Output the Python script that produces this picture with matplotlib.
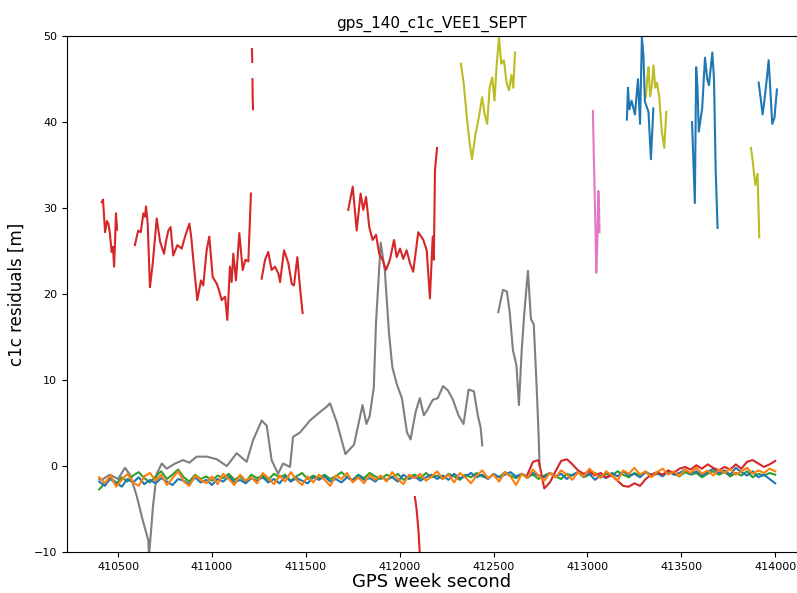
import numpy as np
import matplotlib.pyplot as plt

# upper segments (time, residual)
red_t1 = [410413, 410420, 410431, 410441, 410449, 410457, 410466, 410473, 410479, 410484, 410489, 410495]
red_v1 = [30.7, 31.0, 27.2, 28.5, 28.2, 27.0, 24.9, 25.5, 23.2, 26.0, 29.4, 27.5]

red_t2 = [410590, 410600, 410608, 410621, 410635, 410644, 410649, 410658, 410670, 410685,
          410706, 410724, 410745, 410756, 410768, 410780, 410794, 410816, 410839, 410857,
          410880, 410890, 410901, 410922, 410942, 410954, 410972, 410986, 411004, 411026,
          411040, 411052, 411070, 411082, 411096, 411105, 411114, 411128, 411146, 411164,
          411178, 411194, 411199, 411208]
red_v2 = [25.7, 26.7, 27.4, 27.2, 29.4, 29.0, 30.2, 28.2, 20.8, 23.6,
          28.8, 26.1, 24.7, 26.2, 27.4, 27.8, 24.5, 25.7, 25.3, 26.7,
          28.2, 26.6, 24.0, 19.3, 21.6, 21.0, 25.1, 26.7, 22.0, 21.2,
          20.3, 19.3, 19.7, 17.0, 23.2, 21.4, 24.7, 21.6, 27.1, 22.8,
          24.0, 23.8, 26.7, 31.7]

red_t3 = [411265, 411283, 411300, 411318, 411336, 411354, 411363, 411384, 411407, 411425,
          411437, 411455, 411469, 411483]
red_v3 = [21.8, 24.0, 24.9, 22.8, 23.2, 22.4, 21.4, 25.1, 23.6, 21.2,
          21.0, 24.3, 20.8, 17.8]

red_t4 = [411726, 411750, 411771, 411792, 411806, 411821, 411838, 411856, 411874, 411891,
          411909, 411927, 411948, 411970, 411984, 412002, 412019, 412037, 412055, 412072,
          412099, 412126, 412144, 412161, 412176, 412182, 412188, 412199]
red_v4 = [29.8, 32.5, 27.4, 31.7, 29.8, 31.3, 27.8, 26.3, 26.9, 24.7,
          24.0, 22.8, 24.0, 26.3, 24.3, 25.3, 24.1, 25.1, 23.6, 22.6,
          27.2, 26.3, 25.1, 19.5, 26.7, 24.0, 34.4, 37.0]

red_dash_t1 = [411213, 411215]
red_dash_v1 = [48.5, 47.0]
red_dash_t2 = [411216, 411217, 411219]
red_dash_v2 = [45.0, 43.0, 41.5]

red_low_t = [412081, 412090, 412100, 412108]
red_low_v = [-3.6, -5.0, -7.5, -10.5]

gray_t1 = [410400, 410413, 410457, 410500, 410537, 410564, 410600, 410628, 410661, 410665,
           410676, 410686, 410706, 410733, 410759, 410804, 410846, 410880, 410919, 410972,
           411026, 411079, 411132, 411185, 411219, 411265, 411292, 411318, 411352, 411379,
           411416, 411432, 411469, 411522, 411576, 411611, 411629, 411665, 411711, 411757,
           411802, 411823, 411840, 411862, 411874, 411899, 411921, 411943, 411961, 411985,
           412012, 412039, 412058, 412085, 412107, 412129, 412149, 412176, 412203, 412231,
           412257, 412284, 412313, 412340, 412367, 412395, 412417, 412431, 412440]
gray_v1 = [-1.5, -1.6, -1.0, -1.5, -0.2, -1.0, -3.5, -6.0, -8.6, -10.5,
           -7.5, -4.7, -0.9, 0.3, -0.3, 0.3, 0.7, 0.4, 1.1, 1.1,
           0.8, 0.0, 1.5, 0.5, 3.0, 5.3, 4.7, 0.7, -0.9, 0.3,
           -0.1, 3.4, 3.9, 5.3, 6.3, 6.9, 7.3, 5.1, 1.4, 2.5,
           7.1, 4.9, 5.8, 9.1, 16.7, 26.0, 22.7, 15.5, 11.5, 9.5,
           7.9, 3.9, 3.1, 6.3, 7.9, 5.9, 6.6, 7.7, 7.9, 9.3,
           8.8, 7.7, 5.9, 4.9, 8.9, 8.7, 5.8, 4.5, 2.4]

gray_t2 = [412525, 412550, 412571, 412586, 412603, 412622, 412635, 412650, 412664, 412683,
           412699, 412714, 412723, 412732, 412740, 412745]
gray_v2 = [17.9, 20.5, 20.3, 17.9, 13.5, 11.7, 7.1, 13.5, 17.9, 22.7,
           17.1, 16.5, 12.3, 7.9, 3.5, 0.0]

olive_t1 = [412326, 412341, 412358, 412373, 412385, 412403, 412421, 412439, 412452, 412466,
            412479, 412493, 412505, 412516, 412529, 412541, 412555, 412570, 412582, 412595,
            412605, 412614]
olive_v1 = [46.8, 44.5, 40.5, 37.5, 35.7, 38.5, 40.5, 42.9, 41.0, 39.8,
            44.0, 45.2, 42.5, 46.5, 49.9, 46.8, 47.2, 44.5, 43.7, 45.5,
            44.0, 48.1]

olive_t2 = [413311, 413318, 413325, 413334, 413343, 413352, 413361, 413370, 413382, 413396,
            413409, 413420]
olive_v2 = [42.9, 45.0, 46.4, 43.0, 44.3, 46.6, 44.0, 44.6, 43.0, 38.9, 37.0, 41.2]

olive_t3 = [413871, 413880, 413894, 413906, 413915]
olive_v3 = [37.0, 35.5, 32.7, 34.0, 26.6]

pink_t = [413029, 413035, 413041, 413044, 413047, 413052, 413058, 413062, 413064]
pink_v = [41.3, 35.0, 29.4, 26.0, 22.5, 25.5, 32.0, 30.0, 27.2]

blue_t1 = [413210, 413216, 413223, 413235, 413253, 413269, 413280, 413290, 413298, 413306,
           413325, 413338, 413351]
blue_v1 = [40.3, 44.0, 41.5, 42.5, 40.9, 45.0, 39.8, 49.9, 47.8, 42.4,
           41.2, 35.7, 41.6]

blue_t2 = [413557, 413572, 413579, 413586, 413593, 413611, 413626, 413638, 413647, 413665,
           413674, 413683, 413693]
blue_v2 = [40.0, 30.6, 46.4, 44.0, 38.9, 41.6, 47.5, 45.0, 44.3, 48.1,
           45.0, 34.3, 27.7]

blue_t3 = [413912, 413924, 413933, 413942, 413955, 413965, 413976, 413984, 413996, 414009]
blue_v3 = [44.6, 42.5, 40.9, 42.4, 45.0, 47.2, 43.0, 39.8, 40.5, 43.8]

# low band, one value every 30 s
band_t = np.arange(410400, 414001, 30)
blue_band = [-1.8, -2.3, -1.4, -1.9, -2.4, -1.5, -1.9, -1.3, -2.1, -1.6,
             -2.0, -1.4, -1.8, -2.2, -1.5, -1.7, -2.1, -1.3, -1.9, -1.6,
             -2.2, -1.5, -1.8, -1.2, -1.9, -1.6, -2.0, -1.4, -1.7, -1.3,
             -1.9, -1.5, -2.0, -1.2, -1.8, -1.4, -1.7, -2.0, -1.3, -1.6,
             -1.2, -1.8, -1.5, -1.9, -1.3, -1.7, -1.1, -1.6, -1.4, -1.8,
             -1.2, -1.6, -1.3, -1.8, -1.0, -1.5, -1.2, -1.7, -1.3, -1.0,
             -1.5, -1.1, -1.6, -0.9, -1.4, -1.2, -0.8, -1.3, -1.0, -1.5,
             -0.9, -1.3, -1.0, -0.7, -1.2, -0.9, -1.4, -0.8, -1.1, -1.3,
             -0.8, -1.2, -0.9, -1.5, -1.0, -0.7, -1.2, -0.9, -1.6, -1.1,
             -1.4, -0.8, -1.2, -0.6, -1.1, -0.9, -1.3, -0.7, -1.0, -0.8,
             -1.2, -0.6, -1.0, -0.8, -0.4, -0.9, -0.6, -1.1, -0.7, -0.3,
             -0.8, -0.5, -1.0, -0.2, -0.7, -1.1, -0.6, -1.3, -1.0, -1.5,
             -2.0]
orange_band = [-1.3, -2.0, -1.1, -2.4, -1.6, -0.9, -1.9, -2.3, -1.2, -0.8,
               -1.7, -1.0, -2.2, -1.4, -0.6, -1.8, -2.3, -1.1, -1.6, -2.0,
               -1.2, -2.1, -0.9, -1.5, -2.2, -1.0, -1.7, -1.3, -2.0, -0.8,
               -1.4, -2.1, -1.1, -1.8, -0.7, -1.6, -2.2, -1.2, -1.9, -1.0,
               -1.6, -2.3, -1.1, -1.5, -0.8, -1.9, -1.3, -2.0, -1.0, -1.6,
               -1.1, -1.8, -0.7, -1.5, -2.1, -1.0, -1.4, -0.9, -1.7, -1.2,
               -0.6, -1.5, -1.0, -1.9, -0.8, -1.3, -2.0, -1.1, -0.5, -1.4,
               -1.0, -1.8, -0.7, -1.2, -2.2, -0.9, -1.4, -0.4, -1.1, -1.7,
               -0.8, -1.3, -0.5, -1.0, -1.6, -0.7, -1.2, -0.3, -0.9, -1.4,
               -0.6, -1.1, -1.7, -0.5, -0.9, -0.2, -1.0, -0.6, -1.3, -0.7,
               -0.3, -1.0, -0.6, -1.2, -0.4, -0.8, -0.2, -0.9, -0.5, -1.1,
               -0.4, -0.8, -0.3, -1.0, -0.6, -0.2, -0.9, -0.5, -0.8, -0.3,
               -0.6]
green_band = [-2.7, -2.0, -1.5, -2.1, -1.3, -1.8, -1.1, -0.7, -1.4, -1.9,
              -1.2, -0.6, -1.5, -1.0, -0.4, -1.3, -1.8, -1.0, -1.5, -1.2,
              -1.7, -1.1, -1.4, -0.9, -1.6, -1.2, -1.8, -1.0, -1.4, -1.1,
              -1.6, -0.9, -1.3, -1.0, -1.7, -1.2, -0.8, -1.5, -1.1, -1.4,
              -1.0, -1.5, -1.2, -0.7, -1.3, -1.6, -1.0, -1.4, -0.8, -1.2,
              -1.5, -1.0, -1.3, -0.9, -1.6, -1.2, -1.0, -1.4, -0.8, -1.3,
              -1.1, -1.5, -0.9, -1.2, -1.6, -1.0, -1.3, -0.8, -1.2, -1.4,
              -1.0, -1.3, -0.7, -1.1, -1.4, -0.9, -1.2, -1.0, -1.5, -1.1,
              -0.8, -1.2, -1.5, -0.9, -1.1, -0.7, -1.3, -1.0, -0.8, -1.2,
              -0.9, -1.1, -0.6, -1.0, -1.3, -0.8, -1.1, -0.7, -1.2, -0.9,
              -1.0, -0.6, -0.9, -1.2, -0.7, -1.0, -0.8, -1.3, -0.9, -0.6,
              -1.0, -0.7, -1.2, -0.8, -1.1, -0.6, -1.3, -0.9, -1.1, -0.8,
              -1.0]
red_band_t = np.arange(412680, 414001, 30)
red_band = [-1.0, 0.5, 0.7, -2.6, -1.9, -0.6, 0.6, 0.8, 0.2, -0.5,
            -0.9, -0.6, -1.1, -0.8, -1.3, -1.1, -1.7, -2.3, -2.4, -2.0,
            -2.3, -1.5, -1.0, -0.7, -1.0, -0.5, -0.8, -0.3, -0.1, -0.4,
            0.1, -0.3, 0.2, -0.2, -0.5, -0.1, -0.4, 0.2, -0.3, 0.5,
            0.7, 0.3, -0.1, 0.2, 0.6]

fig = plt.figure(figsize=(7.97, 5.93), dpi=100)
ax = fig.add_axes([0.084, 0.069, 0.916, 0.870])
lw = 1.5

ax.plot(gray_t1, gray_v1, color="tab:gray", lw=lw)
ax.plot(gray_t2, gray_v2, color="tab:gray", lw=lw)
ax.plot(band_t, green_band, color="tab:green", lw=lw)
ax.plot(band_t, blue_band, color="tab:blue", lw=lw)
ax.plot(red_band_t, red_band, color="tab:red", lw=lw)
ax.plot(band_t, orange_band, color="tab:orange", lw=lw)

for t, v in [(red_t1, red_v1), (red_t2, red_v2), (red_t3, red_v3), (red_t4, red_v4),
             (red_dash_t1, red_dash_v1), (red_dash_t2, red_dash_v2), (red_low_t, red_low_v)]:
    ax.plot(t, v, color="tab:red", lw=lw)
for t, v in [(olive_t1, olive_v1), (olive_t2, olive_v2), (olive_t3, olive_v3)]:
    ax.plot(t, v, color="tab:olive", lw=lw)
for t, v in [(blue_t1, blue_v1), (blue_t2, blue_v2), (blue_t3, blue_v3)]:
    ax.plot(t, v, color="tab:blue", lw=lw)
ax.plot(pink_t, pink_v, color="tab:pink", lw=lw)

ax.set_xlim(410228, 414116)
ax.set_ylim(-10, 50)
ax.set_xticks(np.arange(410500, 414001, 500))
ax.tick_params(labelsize=8)
ax.set_title("gps_140_c1c_VEE1_SEPT", fontsize=11, pad=6)
ax.set_xlabel("GPS week second", fontsize=13, labelpad=1)
ax.set_ylabel("c1c residuals [m]", fontsize=12, labelpad=6)

fig.savefig("out.png", dpi=100)
